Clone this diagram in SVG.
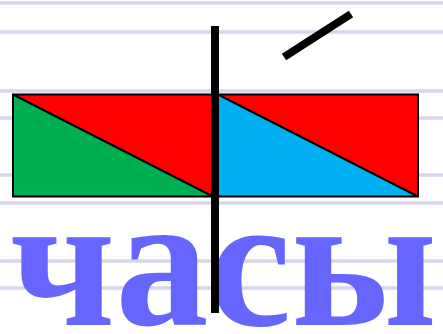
<svg xmlns="http://www.w3.org/2000/svg" width="443" height="334" viewBox="0 0 443 334">
<style>
.rule{stroke:#D6D6EC;stroke-width:3.5;fill:none}
.edge{stroke:#000;stroke-width:2;stroke-linejoin:miter}
.word{font-family:"Liberation Serif","Times New Roman",serif;font-weight:bold;fill:#6666FF}
</style>
<rect width="443" height="334" fill="#FFFFFF"/>
<g id="rules">
<line class="rule" x1="0" y1="3" x2="443" y2="3"/>
<line class="rule" x1="0" y1="32" x2="443" y2="32"/>
<line class="rule" x1="0" y1="91" x2="443" y2="91"/>
<line class="rule" x1="0" y1="118" x2="443" y2="118"/>
<line class="rule" x1="0" y1="175" x2="443" y2="175"/>
<line class="rule" x1="0" y1="203" x2="443" y2="203"/>
<line class="rule" x1="0" y1="261" x2="443" y2="261"/>
<line class="rule" x1="0" y1="288" x2="443" y2="288"/>
</g>
<g id="scheme">
<rect x="13" y="94.5" width="405" height="102" fill="#FF0000"/>
<polygon points="13,94.5 213,196.5 13,196.5" fill="#00B050"/>
<polygon points="218,94.5 418,196.5 218,196.5" fill="#00B0F0"/>
<line class="edge" x1="13" y1="94.5" x2="213" y2="196.5"/>
<line class="edge" x1="218" y1="94.5" x2="418" y2="196.5"/>
<rect class="edge" x="13" y="94.5" width="405" height="102" fill="none"/>
</g>
<g id="word">
<text class="word" x="10" y="325" font-size="190" textLength="427" lengthAdjust="spacingAndGlyphs">часы</text>
</g>
<g id="divider">
<rect x="211" y="26" width="8" height="287" fill="#000"/>
</g>
<g id="accent">
<line x1="284" y1="57" x2="351" y2="14" stroke="#000" stroke-width="8"/>
</g>
</svg>
